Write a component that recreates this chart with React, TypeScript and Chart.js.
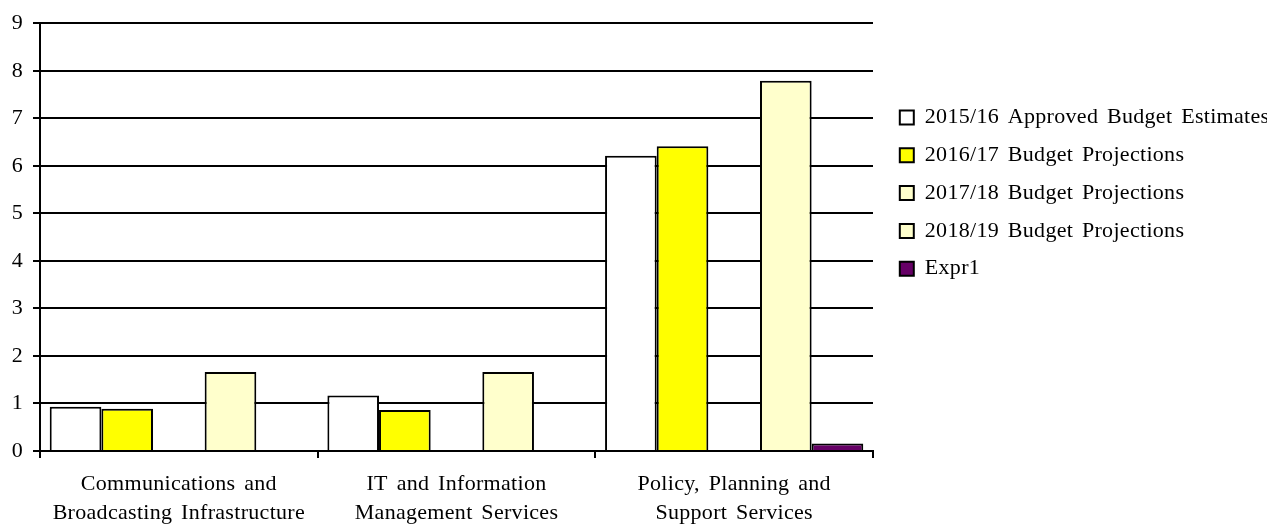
import React, { useEffect, useRef } from 'react';
import { Chart, registerables } from 'chart.js';

Chart.register(...registerables);

const categories: string[][] = [
  ['Communications and', 'Broadcasting Infrastructure'],
  ['IT and Information', 'Management Services'],
  ['Policy, Planning and', 'Support Services'],
];

const seriesNames = [
  '2015/16 Approved Budget Estimates',
  '2016/17 Budget Projections',
  '2017/18 Budget Projections',
  '2018/19 Budget Projections',
  'Expr1',
];

const approved1516 = [0.93, 1.17, 6.21];
const proj1617 = [0.89, 0.86, 6.41];
const proj1718: (number | null)[] = [null, null, null];
const proj1819 = [1.66, 1.66, 7.79];
const expr1: (number | null)[] = [null, null, 0.16];

const seriesColors = ['#FFFFFF', '#FFFF00', '#FFFFCC', '#FFFFCC', '#660066'];

const yMin = 0;
const yMax = 9;
const yStep = 1;

const FONT_FAMILY = "'Liberation Serif', 'Times New Roman', serif";

const applySpacing = (chart: any) => {
  const ctx = chart.ctx as any;
  if (ctx) {
    ctx.letterSpacing = '0.3px';
    ctx.wordSpacing = '3px';
  }
};

const textSpacingPlugin = {
  id: 'textSpacing',
  beforeInit: applySpacing,
  afterInit: applySpacing,
  beforeUpdate: applySpacing,
  beforeLayout: applySpacing,
  beforeDraw: applySpacing,
};

const legendShiftPlugin = {
  id: 'legendShift',
  afterLayout(chart: any) {
    const lg = chart.legend;
    if (lg) {
      lg.left += 11;
      lg.right += 11;
    }
  },
};

export default function App() {
  const canvasRef = useRef<HTMLCanvasElement | null>(null);

  useEffect(() => {
    document.body.style.margin = '0';
    const canvas = canvasRef.current;
    if (!canvas) return;
    const seriesData = [approved1516, proj1617, proj1718, proj1819, expr1];
    const chart = new Chart(canvas, {
      type: 'bar',
      data: {
        labels: categories,
        datasets: seriesNames.map((name, i) => ({
          label: name,
          data: seriesData[i],
          backgroundColor: seriesColors[i],
          borderColor: '#000000',
          borderWidth: 2,
          barPercentage: 1,
          categoryPercentage: 0.93,
        })),
      },
      options: {
        responsive: false,
        animation: false,
        layout: { padding: { top: 23, left: 0, right: 0, bottom: 0 } },
        plugins: {
          tooltip: { enabled: false },
          legend: {
            position: 'right',
            align: 'start',
            maxWidth: 394,
            title: {
              display: true,
              text: '',
              font: { size: 10, lineHeight: 1 },
              padding: { top: 57.7, bottom: 0 },
            },
            labels: {
              boxWidth: 14,
              boxHeight: 14,
              padding: 15.8,
              color: '#000000',
              font: { family: FONT_FAMILY, size: 22 },
            },
          },
        },
        scales: {
          x: {
            grid: {
              offset: true,
              drawOnChartArea: false,
              drawTicks: true,
              tickLength: 7,
              color: '#000000',
              lineWidth: 2,
            },
            border: { display: true, color: '#000000', width: 2 },
            ticks: {
              color: '#000000',
              padding: 12,
              maxRotation: 0,
              autoSkip: false,
              font: { family: FONT_FAMILY, size: 22, lineHeight: 1.32 },
            },
            afterFit(scale: any) {
              scale.height = 73;
            },
          },
          y: {
            min: yMin,
            max: yMax,
            grid: {
              color: '#000000',
              lineWidth: 2,
              tickLength: 7,
              drawTicks: true,
            },
            border: { display: true, color: '#000000', width: 2 },
            ticks: {
              stepSize: yStep,
              color: '#000000',
              padding: 10,
              font: { family: FONT_FAMILY, size: 22 },
            },
            afterFit(scale: any) {
              scale.width = 40;
            },
          },
        },
      },
      plugins: [textSpacingPlugin, legendShiftPlugin],
    } as any);
    return () => chart.destroy();
  }, []);

  return (
    <div style={{ width: 1267, height: 524 }}>
      <canvas ref={canvasRef} width={1267} height={524} style={{ display: 'block' }} />
    </div>
  );
}
